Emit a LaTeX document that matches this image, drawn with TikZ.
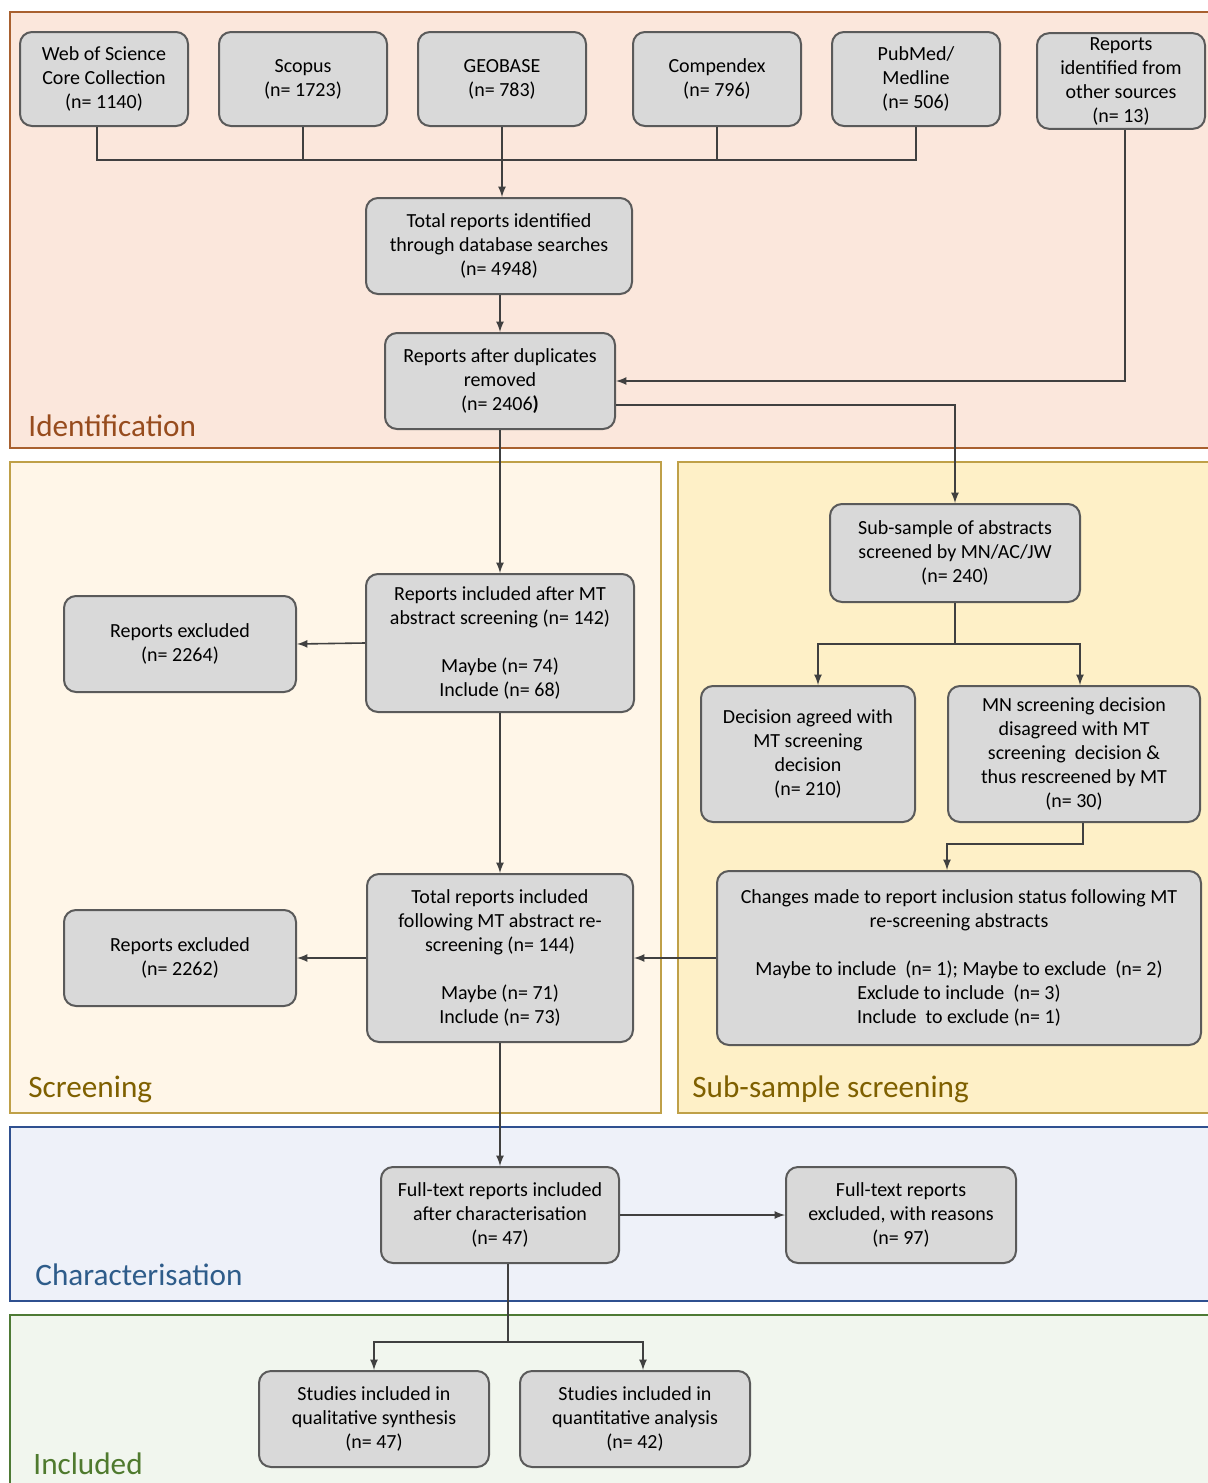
\documentclass[tikz,border=0pt]{standalone}
\usepackage{fontspec}
\setmainfont{Carlito}
\definecolor{boxfill}{HTML}{D9D9D9}
\definecolor{boxline}{HTML}{5A5A5A}
\definecolor{lnk}{HTML}{404040}
\definecolor{idfill}{HTML}{FBE7DC}
\definecolor{idline}{HTML}{A8602F}
\definecolor{idtext}{HTML}{974C1E}
\definecolor{scrfill}{HTML}{FFF6E8}
\definecolor{subfill}{HTML}{FEF0C7}
\definecolor{scrline}{HTML}{BFA048}
\definecolor{scrtext}{HTML}{7F6000}
\definecolor{chfill}{HTML}{EEF1F9}
\definecolor{chline}{HTML}{2F5090}
\definecolor{chtext}{HTML}{2E5C8A}
\definecolor{incfill}{HTML}{F1F6EE}
\definecolor{incline}{HTML}{4E7A35}
\definecolor{inctext}{HTML}{4F7A2E}
\begin{document}
\begin{tikzpicture}[x=0.5pt, y=-0.5pt,
                    rect/.style={draw=boxline, fill=boxfill, rounded corners=6pt, line width=1pt, align=center, inner sep=2pt, font=\fontsize{10}{12}\selectfont},
                    arrow/.style={draw=lnk, line width=0.8pt, -latex},
                    line/.style={draw=lnk, line width=0.8pt},
                    panel/.style={line width=0.8pt},
                    tag/.style={anchor=west, inner sep=0, font=\fontsize{15.6}{18}\selectfont}]
  \clip (0,0) rectangle (1208,1483);
  % phases
  \draw[panel, draw=idline, fill=idfill] (10,12) rectangle (1215,448);
  \draw[panel, draw=scrline, fill=scrfill] (10,462) rectangle (661,1113);
  \draw[panel, draw=scrline, fill=subfill] (678,462) rectangle (1215,1113);
  \draw[panel, draw=chline, fill=chfill] (10,1127) rectangle (1215,1301);
  \draw[panel, draw=incline, fill=incfill] (10,1315) rectangle (1215,1495);
  \node[tag, text=idtext] (lbl_id) at (28,426) {Identification};
  \node[tag, text=scrtext] (lbl_scr) at (28,1089) {Screening};
  \node[tag, text=scrtext] (lbl_sub) at (692,1089) {Sub-sample screening};
  \node[tag, text=chtext] (lbl_ch) at (35,1275) {Characterisation};
  \node[tag, text=inctext] (lbl_inc) at (33,1464) {Included};
  % sources
  \node(db_wos)[rect, minimum width=84pt, minimum height=47pt] at (104,79) {Web of Science\\Core Collection\\(n= 1140)};
  \node(db_sco)[rect, minimum width=84pt, minimum height=47pt] at (303,79) {Scopus\\(n= 1723)};
  \node(db_geo)[rect, minimum width=84pt, minimum height=47pt] at (502,79) {GEOBASE\\(n= 783)};
  \node(db_com)[rect, minimum width=84pt, minimum height=47pt] at (717,79) {Compendex\\(n= 796)};
  \node(db_pub)[rect, minimum width=84pt, minimum height=47pt] at (916,79) {PubMed/\\Medline\\(n= 506)};
  \node(oth)[rect, minimum width=84pt, minimum height=47pt] at (1121,81) {Reports\\identified from\\other sources\\(n= 13)};
  \node(tot_db)[rect, minimum width=133pt, minimum height=48pt] at (499,246) {Total reports identified\\through database searches\\(n= 4948)};
  \node(dup)[rect, minimum width=115pt, minimum height=48pt] at (500,381) {Reports after duplicates\\removed\\(n= 2406\textbf{)}};
  % screening
  \node(inc_ab)[rect, minimum width=134pt, minimum height=69pt] at (500,643) {Reports included after MT\\abstract screening (n= 142)\\[12pt]Maybe (n= 74)\\Include (n= 68)};
  \node(exc_1)[rect, minimum width=116pt, minimum height=48pt] at (180,644) {Reports excluded\\(n= 2264)};
  \node(tot_re)[rect, minimum width=133pt, minimum height=84pt] at (500,958) {Total reports included\\following MT abstract re-\\screening (n= 144)\\[12pt]Maybe (n= 71)\\Include (n= 73)};
  \node(exc_2)[rect, minimum width=116pt, minimum height=48pt] at (180,958) {Reports excluded\\(n= 2262)};
  % sub-sample
  \node(sub)[rect, minimum width=125pt, minimum height=49pt] at (955,553) {Sub-sample of abstracts\\screened by MN/AC/JW\\(n= 240)};
  \node(agr)[rect, minimum width=107pt, minimum height=68pt] at (808,754) {Decision agreed with\\MT screening\\decision\\(n= 210)};
  \node(dis)[rect, minimum width=126pt, minimum height=68pt] at (1074,754) {MN screening decision\\disagreed with MT\\screening\ \ decision \&\\thus rescreened by MT\\(n= 30)};
  \node(chg)[rect, minimum width=242pt, minimum height=87pt] at (959,958) {Changes made to report inclusion status following MT\\re-screening abstracts\\[12pt]Maybe to include\ \ (n= 1); Maybe to exclude\ \ (n= 2)\\Exclude to include\ \ (n= 3)\\Include\ \ to exclude (n= 1)};
  % characterisation and included
  \node(ft_in)[rect, minimum width=119pt, minimum height=48pt] at (500,1215) {Full-text reports included\\after characterisation\\(n= 47)};
  \node(ft_ex)[rect, minimum width=115pt, minimum height=48pt] at (901,1215) {Full-text reports\\excluded, with reasons\\(n= 97)};
  \node(qual)[rect, minimum width=115pt, minimum height=48pt] at (374,1419) {Studies included in\\qualitative synthesis\\(n= 47)};
  \node(quan)[rect, minimum width=115pt, minimum height=48pt] at (635,1419) {Studies included in\\quantitative analysis\\(n= 42)};
  \coordinate (jn) at (502,160);
  \draw[line] ([xshift=-3.5pt]db_wos.south) |- (db_pub.south |- jn) -- (db_pub.south);
  \draw[line] (db_sco.south) -- (db_sco.south |- jn);
  \draw[line] (db_com.south) -- (db_com.south |- jn);
  \draw[arrow] (db_geo.south) -- (db_geo.south |- tot_db.north);
  \draw[arrow] (tot_db.south -| dup.north) -- (dup.north);
  \draw[arrow] ([xshift=2pt]oth.south) -- ([xshift=2pt]oth.south |- dup.east) -- (dup.east);
  \draw[arrow] ([yshift=-12pt]dup.east) -| (sub.north);
  \draw[arrow] (dup.south) -- (inc_ab.north);
  \draw[arrow] (inc_ab.west) -- (exc_1.east);
  \draw[arrow] (inc_ab.south) -- (tot_re.north);
  \draw[arrow] (tot_re.west) -- (exc_2.east);
  \draw[line] (sub.south) -- ++(0,41) coordinate (sp);
  \draw[arrow] (sp) -| ([xshift=5pt]agr.north);
  \draw[arrow] (sp) -| ([xshift=3pt]dis.north);
  \draw[arrow] ([xshift=4.5pt]dis.south) -- ++(0,21) -| ([xshift=-6pt]chg.north);
  \draw[arrow] (chg.west) -- (tot_re.east);
  \draw[arrow] (tot_re.south) -- (ft_in.north);
  \draw[arrow] (ft_in.east) -- (ft_ex.west);
  \draw[line] ([xshift=4pt]ft_in.south) -- ++(0,78) coordinate (sp2);
  \draw[arrow] (sp2) -| (qual.north);
  \draw[arrow] (sp2) -| ([xshift=4pt]quan.north);
\end{tikzpicture}
\end{document}
